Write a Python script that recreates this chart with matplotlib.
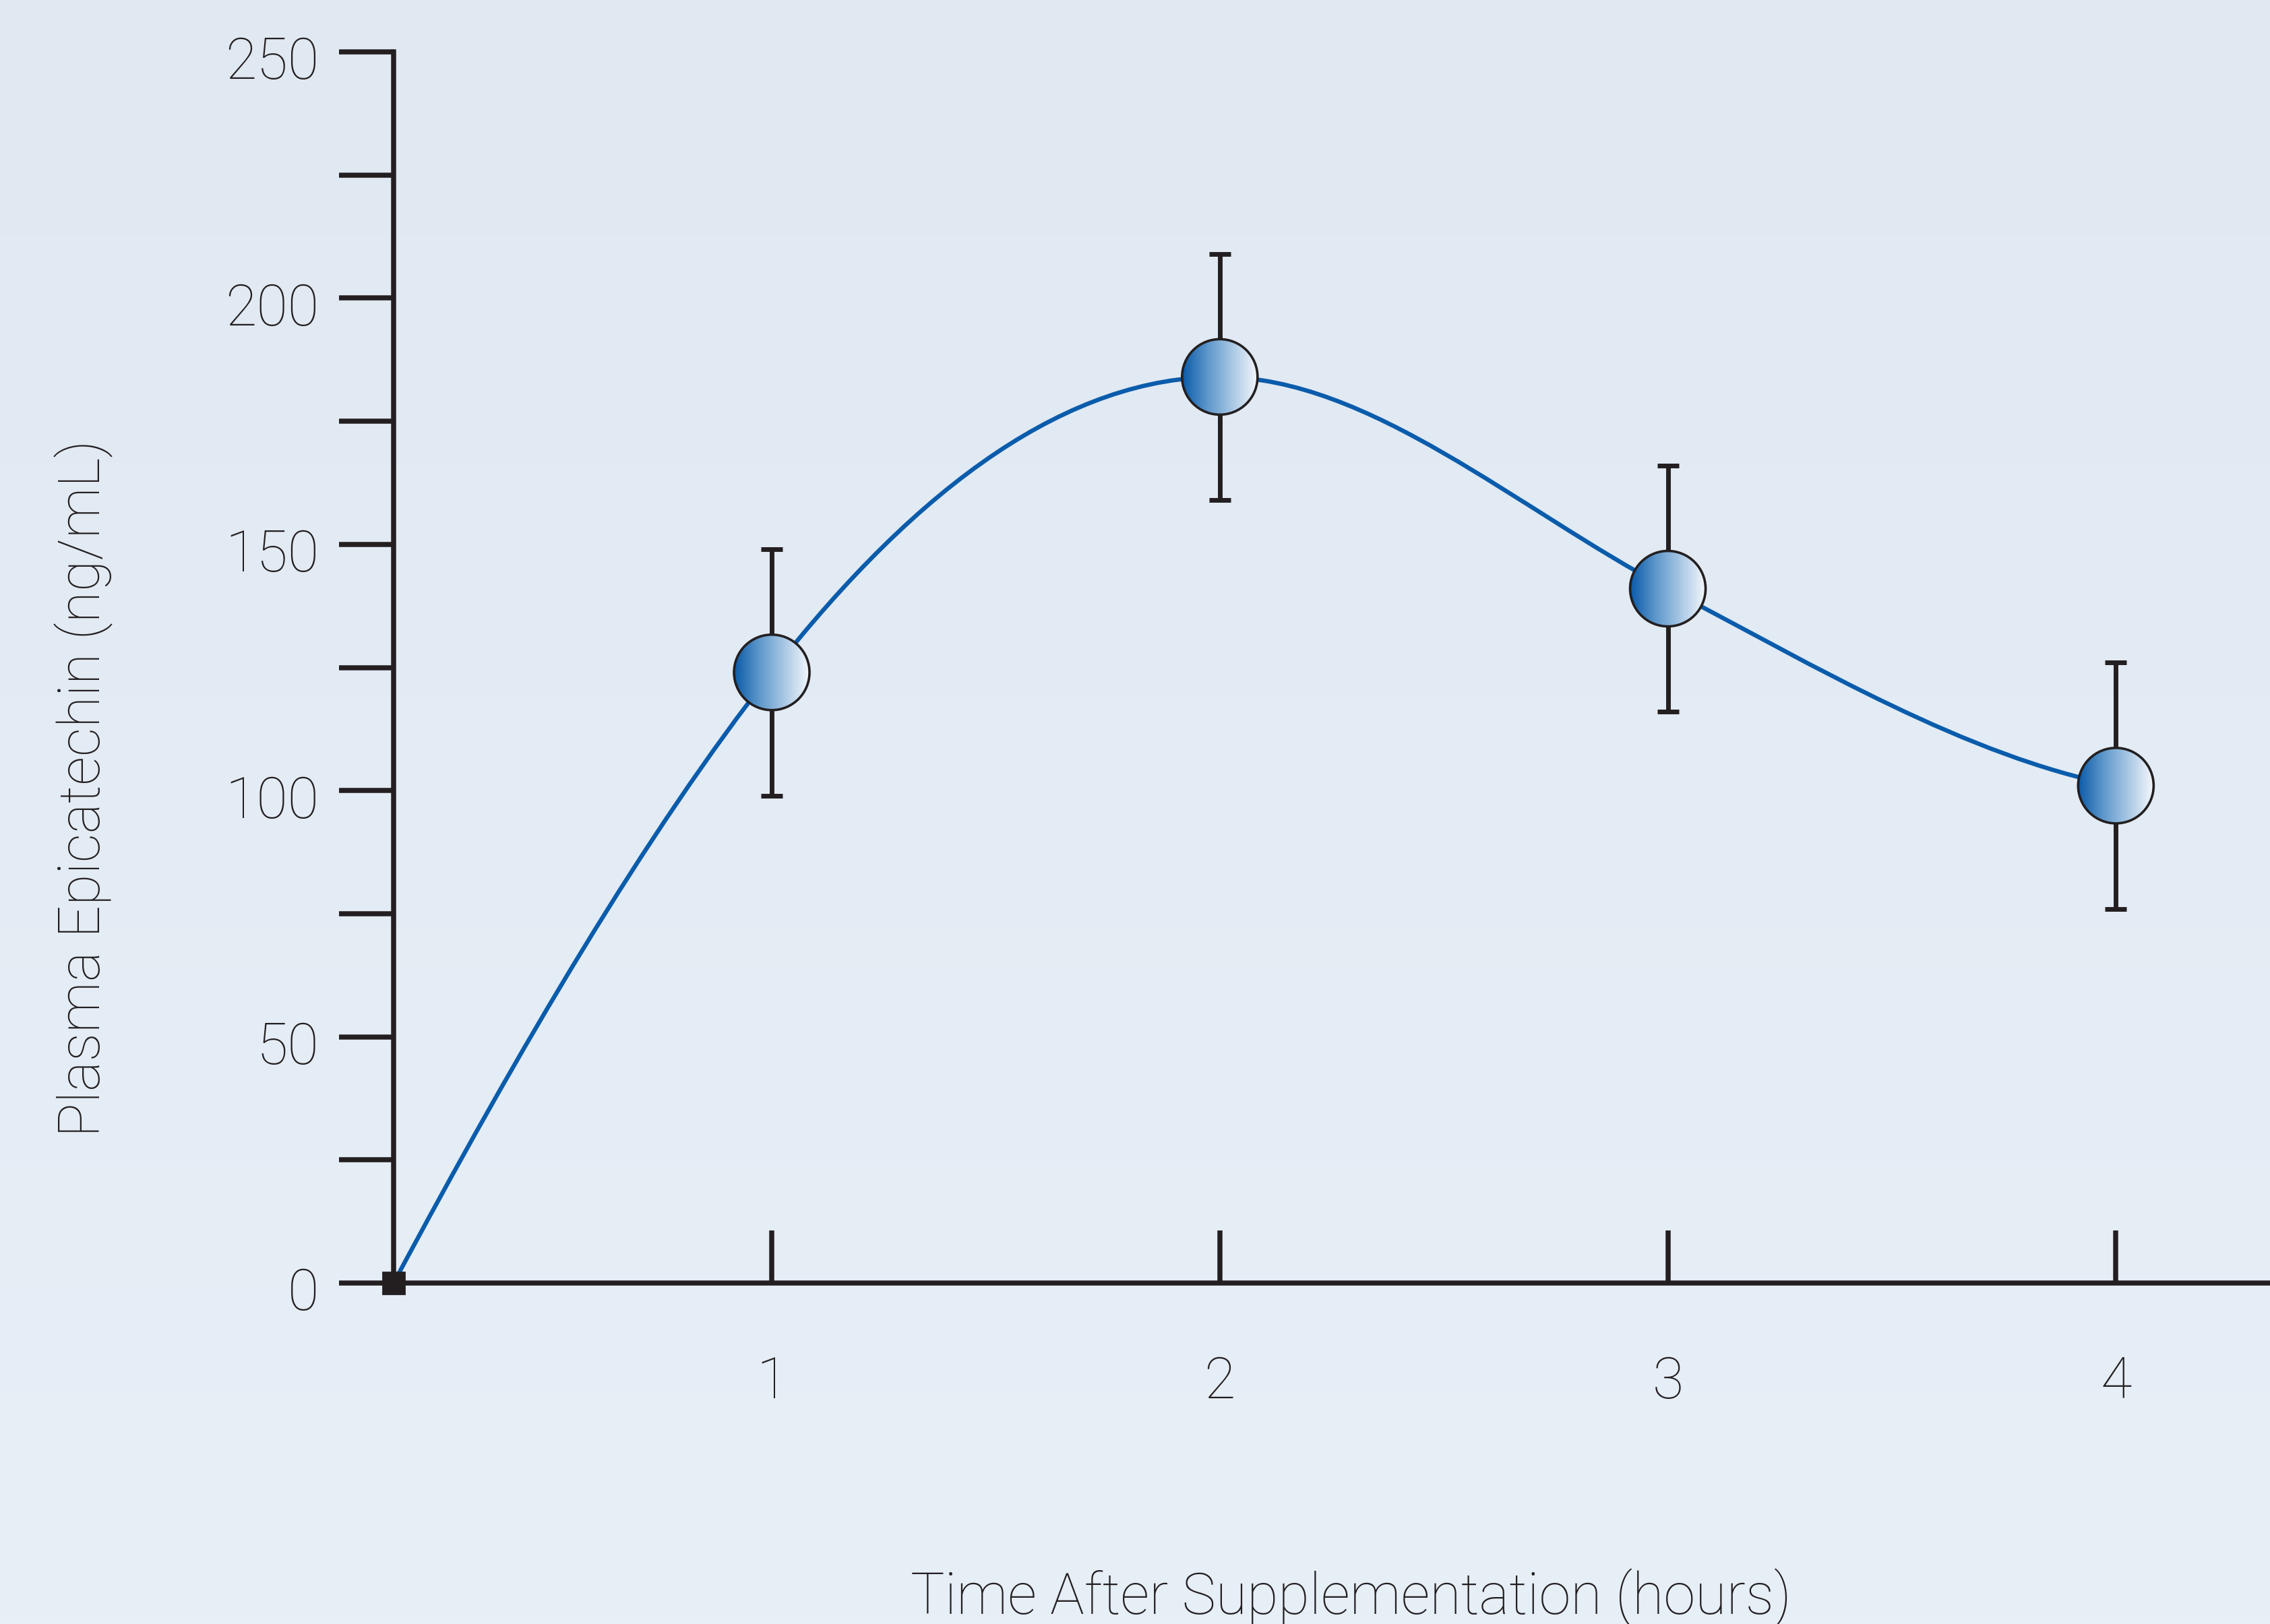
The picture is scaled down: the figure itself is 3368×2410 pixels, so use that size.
import numpy as np
import matplotlib
matplotlib.use("Agg")
import matplotlib.pyplot as plt
import matplotlib.transforms as mtransforms
from matplotlib.path import Path
from matplotlib.patches import PathPatch, Circle
from matplotlib.colors import LinearSegmentedColormap
from matplotlib.ticker import FixedLocator, NullLocator

# ---------------- data ----------------
hours = [1, 2, 3, 4]
epicatechin = [124, 184, 141, 101]          # ng/mL
epicatechin_err = [25, 25, 25, 25]
start_hour = 0
start_value = 0
xtick_labels = ["1", "2", "3", "4"]
ytick_major = [0, 50, 100, 150, 200, 250]
ytick_minor = [25, 75, 125, 175, 225]
# tangent slopes (ng/mL per axis unit) used for the smooth connecting curve
curve_slopes = [170, 116, 0, -48, -18]

xlabel = "Time After Supplementation (hours)"
ylabel = "Plasma Epicatechin (ng/mL)"

# ---------------- style ----------------
W, H, DPI = 3368, 2410, 200
DARK = "#231f20"
BLUE = "#0a5cab"
plt.rcParams["font.family"] = ["Roboto", "DejaVu Sans"]
plt.rcParams["font.weight"] = "light"
FS = 30.5

fig = plt.figure(figsize=(W / DPI, H / DPI), dpi=DPI)

# background gradient
bg = fig.add_axes([0, 0, 1, 1], zorder=-10)
bg.imshow(np.linspace(0, 1, 256).reshape(-1, 1), aspect="auto",
          cmap=LinearSegmentedColormap.from_list("bg", ["#e0e8f2", "#e7eff7"]),
          extent=(0, 1, 0, 1), origin="upper")
bg.axis("off")

ax = fig.add_axes([584 / W, 506 / H, 1 - 584 / W, 1827 / H])
ax.set_facecolor("none")

# first hour interval is drawn slightly compressed, as in the original figure
FIRST_GAP = 0.844


def fwd(t):
    t = np.asarray(t, float)
    return np.where(t < 1, 1 - (1 - t) * FIRST_GAP, t)


def inv(u):
    u = np.asarray(u, float)
    return np.where(u < 1, 1 - (1 - u) / FIRST_GAP, u)


ax.set_xscale("function", functions=(fwd, inv))

# smooth curve (cubic Bezier segments through the points)
t_all = np.array([start_hour] + hours, float)
v_all = np.array([start_value] + epicatechin, float)
u_all = fwd(t_all)
m = np.array(curve_slopes, float)
verts = [(u_all[0], v_all[0])]
codes = [Path.MOVETO]
for i in range(len(u_all) - 1):
    h = u_all[i + 1] - u_all[i]
    verts += [(u_all[i] + h / 3, v_all[i] + m[i] * h / 3),
              (u_all[i + 1] - h / 3, v_all[i + 1] - m[i + 1] * h / 3),
              (u_all[i + 1], v_all[i + 1])]
    codes += [Path.CURVE4] * 3
curve = PathPatch(Path(verts, codes), fill=False, edgecolor=BLUE, lw=2.3,
                  transform=ax.transLimits + ax.transAxes, zorder=2)
ax.add_artist(curve)

# error bars
ax.errorbar(hours, epicatechin, yerr=epicatechin_err, fmt="none", ecolor=DARK,
            elinewidth=2.5, capsize=5.8, capthick=2.5, zorder=3)

# gradient-filled circular markers
ball_cmap = LinearSegmentedColormap.from_list(
    "ball", ["#0a5aa8", "#5d97cb", "#a9c8e5", "#f4f7fb"])
r_in = 56 / DPI
grad = np.linspace(0, 1, 256).reshape(1, -1)
for t, v in zip(hours, epicatechin):
    trans = (mtransforms.Affine2D().scale(r_in) + fig.dpi_scale_trans
             + mtransforms.ScaledTranslation(t, v, ax.transData))
    im = ax.imshow(grad, cmap=ball_cmap, extent=(-1, 1, -1, 1), transform=trans,
                   aspect="auto", interpolation="bilinear", zorder=4)
    im.set_clip_path(Circle((0, 0), 1, transform=trans))
    ax.add_artist(Circle((0, 0), 1, transform=trans, facecolor="none",
                         edgecolor=DARK, lw=1.3, zorder=5))

# origin square
ax.plot([start_hour], [start_value], marker="s", ms=11.5, color=DARK,
        clip_on=False, zorder=6, linestyle="none")

# axes styling
ax.set_aspect("auto")
ax.set_xlim(0, 4.344)
ax.set_ylim(0, 250)
for s in ("top", "right"):
    ax.spines[s].set_visible(False)
for s in ("left", "bottom"):
    ax.spines[s].set_color(DARK)
    ax.spines[s].set_linewidth(2.7)

ax.xaxis.set_major_locator(FixedLocator(hours))
ax.xaxis.set_minor_locator(NullLocator())
ax.set_xticklabels(xtick_labels)
ax.yaxis.set_major_locator(FixedLocator(ytick_major))
ax.yaxis.set_minor_locator(FixedLocator(ytick_minor))
ax.set_yticklabels([str(v) for v in ytick_major])

ax.tick_params(axis="x", which="major", direction="in", length=28, width=2.7,
               color=DARK, pad=38.5, labelsize=FS, labelcolor=DARK)
ax.tick_params(axis="y", which="both", direction="out", length=29, width=2.7,
               color=DARK, pad=11, labelsize=FS, labelcolor=DARK)

# y tick labels sit slightly below their ticks in the original
shift = mtransforms.ScaledTranslation(0, -3 / 72, fig.dpi_scale_trans)
for lab in ax.get_yticklabels():
    lab.set_transform(lab.get_transform() + shift)

fig.text(148 / W, 1 - 1170 / H, ylabel, rotation=90, rotation_mode="anchor",
         ha="center", va="baseline", fontsize=FS, color=DARK)
fig.text(2004 / W, 15 / H, xlabel, ha="center", va="baseline", fontsize=FS,
         color=DARK)

fig.savefig("out.png", dpi=DPI)
